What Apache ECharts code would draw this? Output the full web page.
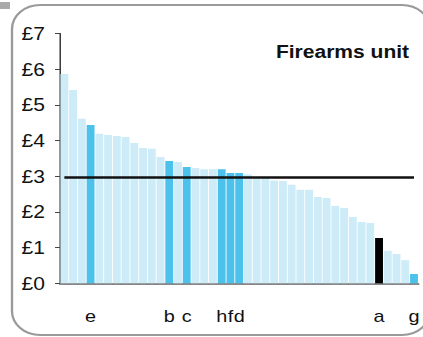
<!DOCTYPE html>
<html>
<head>
<meta charset="utf-8">
<script src="https://cdn.jsdelivr.net/npm/echarts@6/dist/echarts.min.js"></script>
<style>
html,body{margin:0;padding:0;background:#fff;overflow:hidden;}
#wrap{width:423px;height:337px;overflow:hidden;position:relative;}
#chart{width:362px;height:337px;transform:scaleX(1.1685);transform-origin:0 0;}
</style>
</head>
<body>
<div id="wrap"><div id="chart"></div></div>
<script>
const labels = ['', '', '', 'e', '', '', '', '', '', '', '', '', 'b', '', 'c', '', '', '', 'h', 'f', 'd', '', '', '', '', '', '', '', '', '', '', '', '', '', '', '', 'a', '', '', '', 'g'];
const values = [5.87, 5.42, 4.61, 4.44, 4.19, 4.16, 4.13, 4.10, 3.93, 3.79, 3.77, 3.54, 3.43, 3.40, 3.26, 3.23, 3.20, 3.20, 3.20, 3.09, 3.09, 3.06, 2.96, 2.95, 2.88, 2.87, 2.76, 2.62, 2.62, 2.42, 2.39, 2.17, 2.11, 1.86, 1.72, 1.69, 1.27, 0.91, 0.82, 0.65, 0.26];
const avgLine = 2.98;
const yTicks = [0, 1, 2, 3, 4, 5, 6, 7];
const title = 'Firearms unit';

const LIGHT = '#CDECF8', DARK = '#4BC1EC', BLACK = '#000000';
const font = 'Liberation Sans, Arial, sans-serif';
const S = 1.1685; // horizontal stretch of the original picture

const chart = echarts.init(document.getElementById('chart'), null, {renderer: 'svg'});
chart.setOption({
  animation: false,
  backgroundColor: '#fff',
  title: {
    text: title, right: 8 / S, top: 38,
    textStyle: {fontFamily: font, fontSize: 18, fontWeight: 'bold', color: '#111'}
  },
  graphic: [
    {type: 'rect', shape: {x: 0, y: 2, width: 10 / S, height: 7}, style: {fill: '#aaaaaa'}},
    {type: 'rect', shape: {x: 12 / S, y: 5, width: 418 / S, height: 330, r: 24}, style: {fill: 'none', stroke: '#9a9a9a', lineWidth: 2}}
  ],
  grid: {left: 60 / S, right: 2 / S, top: 33.6, bottom: 53.7},
  xAxis: {
    type: 'category',
    data: labels,
    axisLine: {lineStyle: {color: '#888', width: 2}},
    axisTick: {show: false},
    axisLabel: {interval: 0, margin: 24, fontFamily: font, fontSize: 17, color: '#111'}
  },
  yAxis: {
    type: 'value', min: yTicks[0], max: yTicks[yTicks.length - 1], interval: 1,
    splitLine: {show: false},
    axisLine: {show: true, lineStyle: {color: '#000', width: 1}},
    axisTick: {show: true, length: 5 / S, lineStyle: {color: '#444'}},
    axisLabel: {margin: 15 / S, fontFamily: font, fontSize: 18, color: '#111', formatter: v => '£' + v}
  },
  series: [{
    type: 'bar',
    barWidth: '90%',
    data: values.map((v, i) => ({
      value: v,
      itemStyle: {color: labels[i] === 'a' ? BLACK : (labels[i] ? DARK : LIGHT)}
    })),
    markLine: {
      silent: true, symbol: 'none', label: {show: false},
      lineStyle: {color: '#111', width: 2.5, type: 'solid'},
      data: [[{xAxis: 0, yAxis: avgLine}, {xAxis: labels.length - 1, yAxis: avgLine}]]
    }
  }]
});
</script>
</body>
</html>
